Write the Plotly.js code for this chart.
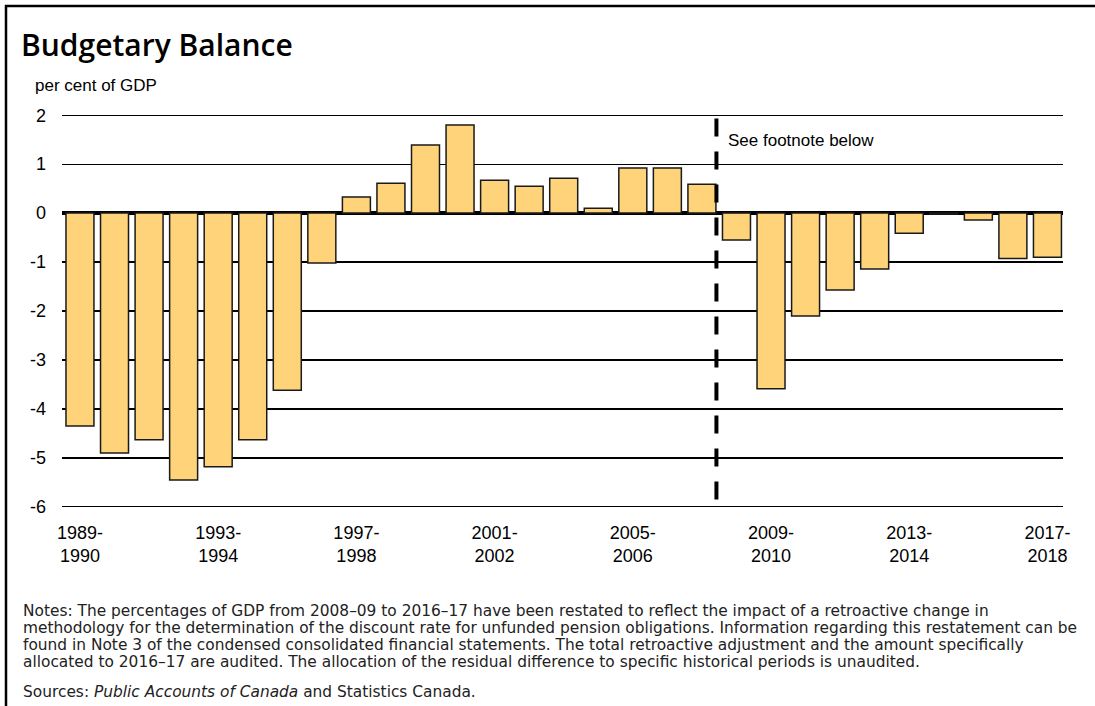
<!DOCTYPE html>
<html>
<head>
<meta charset="utf-8">
<script src="https://cdn.plot.ly/plotly-3.0.1.min.js"></script>
<style>
  html, body { margin: 0; padding: 0; background: #fff; }
  #chart { width: 1095px; height: 706px; }
</style>
</head>
<body>
<div id="chart"></div>
<script>
// Fiscal years
const years = [
  "1989-1990","1990-1991","1991-1992","1992-1993","1993-1994","1994-1995","1995-1996","1996-1997",
  "1997-1998","1998-1999","1999-2000","2000-2001","2001-2002","2002-2003","2003-2004","2004-2005",
  "2005-2006","2006-2007","2007-2008","2008-2009","2009-2010","2010-2011","2011-2012","2012-2013",
  "2013-2014","2014-2015","2015-2016","2016-2017","2017-2018"
];
// Budgetary balance, per cent of GDP
const balance = [
  -4.35, -4.9, -4.63, -5.45, -5.18, -4.63, -3.62, -1.02,
  0.33, 0.61, 1.39, 1.80, 0.67, 0.55, 0.71, 0.10,
  0.92, 0.92, 0.59, -0.55, -3.59, -2.10, -1.57, -1.14,
  -0.41, -0.02, -0.14, -0.93, -0.90
];
// Axis ticks
const xTickYears = ["1989-1990","1993-1994","1997-1998","2001-2002","2005-2006","2009-2010","2013-2014","2017-2018"];
const xTickText = xTickYears.map(s => s.replace("-", "-<br>"));
const yTickVals = [2, 1, 0, -1, -2, -3, -4, -5, -6];
const yTickText = ["2", "1", "0", "-1", "-2", "-3", "-4", "-5", "-6"];

const title = "Budgetary Balance";
const yLabel = "per cent of GDP";
const footnoteMark = "See footnote below";
const noteLines = [
  "Notes: The percentages of GDP from 2008–09 to 2016–17 have been restated to reflect the impact of a retroactive change in",
  "methodology for the determination of the discount rate for unfunded pension obligations. Information regarding this restatement can be",
  "found in Note 3 of the condensed consolidated financial statements. The total retroactive adjustment and the amount specifically",
  "allocated to 2016–17 are audited. The allocation of the residual difference to specific historical periods is unaudited."
];
const sources = "Sources: <i>Public Accounts of Canada</i> and Statistics Canada.";
const breakPosition = 18.42; // between 2007-2008 and 2008-2009

const W = 1095, H = 706;
const margin = {l: 62, r: 32, t: 113, b: 197};
const plotH = H - margin.t - margin.b;
const plotW = W - margin.l - margin.r;
const px = x => (x - margin.l) / plotW;
const py = y => (H - margin.b - y) / plotH;

const trace = {
  type: "bar",
  x: years,
  y: balance,
  marker: {color: "#FED37A", line: {color: "#1a1a1a", width: 1.5}},
  hoverinfo: "x+y"
};

const noteFont = {family: "DejaVu Sans, sans-serif", size: 15.4, color: "#222"};
const noteAnnotations = noteLines.map((t, i) => ({
  text: t, xref: "paper", yref: "paper", x: px(21), y: py(611 + 17 * i),
  xanchor: "left", yanchor: "middle", align: "left", showarrow: false, font: noteFont
}));

const layout = {
  width: W, height: H,
  margin: margin,
  paper_bgcolor: "#fff",
  plot_bgcolor: "#fff",
  showlegend: false,
  bargap: 0.19,
  font: {family: "Liberation Sans, Arial, sans-serif", color: "#000", size: 18},
  title: {
    text: title,
    x: 21 / W, xanchor: "left",
    y: 1 - 45 / H, yanchor: "middle",
    font: {family: "Open Sans, sans-serif", size: 30, color: "#000", weight: 600}
  },
  xaxis: {
    type: "category",
    range: [-0.52, 28.45],
    tickmode: "array",
    tickvals: xTickYears,
    ticktext: xTickText,
    ticks: "",
    ticklabelstandoff: 11,
    showgrid: false,
    showline: false,
    zeroline: false,
    tickfont: {size: 18, color: "#000"},
    fixedrange: true
  },
  yaxis: {
    range: [-6.045, 2.045],
    tickmode: "array",
    tickvals: yTickVals,
    ticktext: yTickText,
    ticks: "",
    ticklabelstandoff: 15,
    showgrid: true,
    gridcolor: "#000",
    gridwidth: 1.3,
    zeroline: true,
    zerolinecolor: "#000",
    zerolinewidth: 4,
    showline: false,
    tickfont: {size: 18, color: "#000"},
    fixedrange: true
  },
  shapes: [
    {type: "line", xref: "x", yref: "y", x0: breakPosition, x1: breakPosition, y0: -5.85, y1: 2.0,
     line: {color: "#000", width: 4, dash: "18px,15px"}},
    {type: "line", xref: "paper", yref: "paper", x0: px(5), x1: px(1095), y0: py(6), y1: py(6),
     line: {color: "#000", width: 2.5}},
    {type: "line", xref: "paper", yref: "paper", x0: px(6), x1: px(6), y0: py(5), y1: py(706),
     line: {color: "#000", width: 2.5}}
  ],
  annotations: [
    {text: yLabel, xref: "paper", yref: "paper", x: px(33), y: py(85), xanchor: "left", yanchor: "middle",
     showarrow: false, font: {size: 17, color: "#000"}},
    {text: footnoteMark, xref: "paper", yref: "y", x: px(726), y: 1.49, xanchor: "left", yanchor: "middle",
     showarrow: false, font: {size: 17, color: "#000"}},
    ...noteAnnotations,
    {text: sources, xref: "paper", yref: "paper", x: px(21), y: py(692), xanchor: "left", yanchor: "middle",
     align: "left", showarrow: false, font: noteFont}
  ]
};

Plotly.newPlot("chart", [trace], layout, {displayModeBar: false, staticPlot: true});
</script>
</body>
</html>
